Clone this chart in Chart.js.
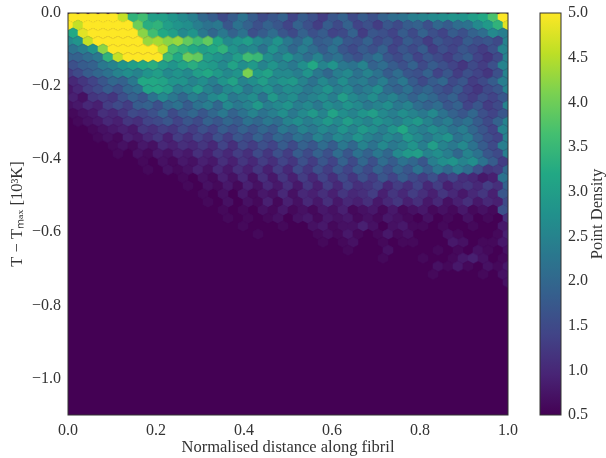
<!DOCTYPE html>
<html>
<head>
<meta charset="utf-8">
<script src="https://cdn.jsdelivr.net/npm/chart.js@4"></script>
<style>
  html, body { margin: 0; padding: 0; background: #fff; }
  canvas { position: absolute; left: 0; top: 0; }
</style>
</head>
<body>
<canvas id="hexChart" width="606" height="458"></canvas>
<canvas id="barChart" width="606" height="458"></canvas>
<script>
// Eje y etiquetas
const xTicks = [0, 0.2, 0.4, 0.6, 0.8, 1];
const yTicks = [0, -0.2, -0.4, -0.6, -0.8, -1];
const cbTicks = [0.5, 1, 1.5, 2, 2.5, 3, 3.5, 4, 4.5, 5];
const xTitle = 'Normalised distance along fibril';
const yTitle = 'T − Tₘₐₓ [10³K]';
const cbTitle = 'Point Density';

const viridis = ['#440154', '#482475', '#414487', '#355f8d', '#2a788e', '#21918c', '#22a884', '#44bf70', '#7ad151', '#bddf26', '#fde725'];

// Densidad, fila por fila desde arriba (filas impares corridas media celda)
const density = [
  [5,5,5,5,5,4.6,3.4,3.6,3,3,2.8,2.6,2.4,2,1.8,1.5,1.8,2.2,1.8,1.5,1.7,1.9,1.4,1.8,1.6,1.3,1.7,1.9,1.5,1.8,1.6,1.9,2.1,2.2,2.4,2.5,2.6,2.7,2.8,2.8,3,3.2,3.7,5],
  [5,4.6,5,5,5,5,5,4,3.3,3.4,3,2.8,2.7,2.4,2.2,2.3,1.7,2.2,1.9,1.6,1.9,1.7,1.4,1.9,1.6,1.3,1.8,1.5,1.9,1.4,1.6,1.3,1.7,1.5,1.8,1.9,1.6,2,1.8,2.1,2.2,2.6,2.9,3.4,4.8],
  [3.2,4.8,5,5,5,5,5,4.2,3.6,3.2,3,2.6,2.8,2.3,2,2.3,1.9,2.2,1.6,1.8,2.1,1.7,1.5,1.9,1.6,1.8,1.4,1.5,1.9,1.3,1.7,1.6,1.4,1.8,1.5,1.9,1.6,1.4,1.8,1.6,1.9,2.1,2.6,2.4],
  [2.6,2.8,4.6,5,5,5,5,5,4.3,4.4,4.2,4.3,3.9,3.6,3.9,3.2,2.6,2.8,3,2.6,2.4,2.8,2.3,2,2.4,1.8,1.9,2.2,1.7,1.6,1.9,1.5,1.7,1.4,1.8,1.6,1.3,1.7,1.5,1.4,1.8,1.6,1.7,1.5,2.5],
  [2.2,2.4,2.8,4.2,5,5,5,5,5,4.6,3.6,3.4,3.2,3,3.2,3.4,2.8,2.5,2.6,2.2,2.8,2.4,2,2.4,2.1,1.8,2.2,1.7,1.5,1.8,1.6,1.9,1.4,1.7,1.5,1.8,1.3,1.6,1.4,1.7,1.5,1.3,1.6,2.5],
  [1.9,1.9,2.1,2.3,3.4,4.6,5,5,5,5,3.6,3.2,4,3.9,3,2.8,2.6,3,3.6,3.5,2.7,2.4,2.8,2.4,2.1,2.5,2,2.2,1.8,1.6,1.9,2.2,1.7,1.5,1.8,1.4,1.7,1.5,1.3,1.6,1.8,1.4,1.2,1.5,2.5],
  [1.6,1.8,1.9,2.3,2.5,2.8,3,3.2,3.3,3,2.8,3.1,3.3,3,2.9,2.6,3.1,2.7,2.9,2.5,2.8,2.5,2.3,2.7,3.2,2.5,2.8,2.3,2.2,2.5,1.9,2.1,1.8,1.6,1.9,1.5,1.8,1.6,1.4,1.2,1.5,1.3,1.6,2.5],
  [1.3,1.5,1.8,2,2.2,2.5,2.7,2.5,2.8,3,2.6,2.8,2.6,3,3.2,2.9,2.6,2.8,4.1,2.9,3.1,2.6,2.6,2.4,2.8,2.3,2,2.4,2.6,2.2,2.5,2.2,1.8,2.1,1.7,1.6,1.9,1.4,1.7,1.3,1.6,1.4,1.2,1.6,2.5],
  [1,1.2,1.4,1.7,2,1.9,2.3,3.2,3.2,3.1,2.8,2.8,2.5,2.7,2.4,2.8,3.1,2.5,2.7,3,2.6,2.8,2.9,2.5,2.2,2.6,2.3,2.7,2.3,2.4,2.1,2.4,2,2.3,1.8,1.5,1.8,2,1.5,1.7,1.3,1.5,1.8,2.4],
  [0.8,1,1.3,1.5,1.8,1.6,2,2.2,3.1,3.2,3,2.4,2.6,3,2.5,2.2,2.6,2.8,2.3,2.6,2.8,2.4,2.7,2.6,2.3,2.5,2.8,2.4,2.6,2.2,2.4,2.7,2.1,1.9,2.2,1.8,2,1.7,1.5,1.8,1.4,1.2,1.5,1.7,2.5],
  [0.9,0.7,1.2,1.3,1.2,1.6,1.9,1.7,2.2,2.6,2.3,2,2.4,2.2,2.6,2.8,2.3,2.5,2.7,2.2,2.9,2.5,2.7,2.3,2.5,2.7,2.4,3,2.6,2.4,2.7,2.3,2.5,2.2,1.9,2.2,2,1.7,1.9,1.5,1.3,1.6,1.4,1.7],
  [0.7,0.8,1,0.9,1.3,1.5,1.3,1.8,1.9,1.6,2,2.2,1.8,2.2,2.4,2,2.6,2.3,2.5,2.9,2.4,2.6,2.8,2.4,2.6,2.3,2.7,2.5,2.8,2.6,2.3,2.5,2.7,2.3,2.5,2.1,1.9,2.1,1.7,1.9,1.4,1.7,1.3,1.5,2.5],
  [0.6,0.7,0.8,1.1,1,1.2,1.5,1.4,1.6,1.9,1.5,1.8,2,1.7,2,2.3,1.9,2.2,2.5,2.2,2.4,2.7,2.3,2.6,2.9,2.5,3.1,2.7,2.5,2.8,3,2.6,2.4,2.7,2.5,2.3,2.6,2.2,1.9,1.7,2,1.6,1.4,1.7],
  [0.5,0.6,0.7,0.8,1,0.9,1.2,1.1,1.4,1.5,1.7,1.4,1.7,1.5,1.9,1.7,2,1.8,2.2,2,2.3,2.1,2.5,2.7,2.4,2.6,2.9,2.6,3,2.7,2.5,2.8,2.6,2.4,2.7,2.9,2.5,2.2,2.4,2,2.2,1.8,1.5,1.9,2.5],
  [0.5,0.5,0.6,0.7,0.8,0.9,0.8,1.2,1.1,1.3,1.2,1.5,1.3,1.6,1.4,1.8,1.6,1.9,1.7,2,1.8,2.3,2.1,2.5,2.3,2.6,2.4,2.8,2.5,2.9,2.7,2.4,2.8,3.2,2.6,2.4,2.7,2.5,2.2,2.4,2,1.7,1.4,2.5],
  [0.5,0.5,0.5,0.6,0.7,0.6,0.9,0.8,1,1.2,0.9,1.3,1.1,1.4,1.2,1.6,1.3,1.7,1.5,1.9,1.6,2,1.8,2.2,2,2.5,2.2,2.6,2.4,2.8,2.5,2.3,2.6,2.4,2.9,2.6,2.3,2.6,2.8,2.2,2.4,1.9,1.6,1.4,2.5],
  [0.5,0.5,0.5,0.5,0.6,0.7,0.6,0.8,0.7,1,0.9,1.1,1,1.2,1,1.4,1.1,1.5,1.3,1.6,1.4,1.8,1.5,1.9,1.7,2.1,1.8,2.3,2,2.5,2.2,2.6,2.3,2.5,2.8,2.4,3,2.5,2.3,2.6,2.2,1.8,1.5,2.4],
  [0.5,0.5,0.5,0.5,0.5,0.6,0.5,0.7,0.6,0.8,0.7,0.9,0.8,1.1,0.9,1.2,1,1.3,1.1,1.5,1.2,1.6,1.3,1.8,1.5,1.9,1.6,2.1,1.7,2.2,1.9,2.3,2,2.6,2.9,3,2.5,2.7,2.4,2,2.5,2.2,1.7,1.5,2.4],
  [0.5,0.5,0.5,0.5,0.5,0.5,0.5,0.6,0.5,0.7,0.6,0.8,0.7,0.9,0.8,1.1,0.9,1.2,1,1.3,1.1,1.4,1.2,1.6,1.3,1.7,1.4,1.9,1.5,2,1.6,2.1,1.8,2.2,2,1.7,2.4,2.7,2.8,2.5,2.7,2.2,1.8,1.3],
  [0.5,0.5,0.5,0.5,0.5,0.5,0.5,0.5,0.6,0.5,0.7,0.6,0.7,0.9,0.7,1,0.8,1.1,0.9,1.2,0.9,1.3,1,1.5,1.2,1.6,1.3,1.7,1.4,1.8,1.5,1.9,1.6,2,1.7,2.2,1.8,2.3,2,2.4,2.1,1.6,1.2,1.3,2],
  [0.5,0.5,0.5,0.5,0.5,0.5,0.5,0.5,0.5,0.5,0.5,0.6,0.5,0.7,0.6,0.9,0.7,1,0.7,1.1,0.8,1.2,0.9,1.3,1,1.4,1.1,1.5,1.2,1.6,1.3,1.7,1.4,1.8,1.5,1.3,1.6,1.2,1.4,1.1,1,0.8,0.9,2.2],
  [0.5,0.5,0.5,0.5,0.5,0.5,0.5,0.5,0.5,0.5,0.5,0.5,0.6,0.5,0.7,0.6,0.8,0.6,0.9,0.7,1,0.8,1.1,0.8,1.2,0.9,1.3,1,1.4,1.1,1.2,1.4,1,1.3,1.1,1.4,1,1.3,0.9,1.1,1.2,1,1.3,1.1,1.9],
  [0.5,0.5,0.5,0.5,0.5,0.5,0.5,0.5,0.5,0.5,0.5,0.5,0.5,0.6,0.5,0.7,0.5,0.8,0.6,0.8,0.7,1,0.7,1,0.9,1.1,0.9,1.2,1,1.1,1.3,0.9,1.2,1,1.3,1.1,0.9,1.2,1,0.8,1,1.2,0.9,1.7],
  [0.5,0.5,0.5,0.5,0.5,0.5,0.5,0.5,0.5,0.5,0.5,0.5,0.5,0.5,0.6,0.5,0.7,0.5,0.7,0.6,0.9,0.6,0.9,0.7,1,0.8,1.1,0.8,1,0.9,1.1,0.8,1,1.2,0.9,1.1,0.8,1,0.7,0.9,1.1,0.8,1,0.9,1.5],
  [0.5,0.5,0.5,0.5,0.5,0.5,0.5,0.5,0.5,0.5,0.5,0.5,0.5,0.5,0.5,0.6,0.5,0.6,0.5,0.7,0.6,0.8,0.6,0.7,0.6,0.8,0.7,0.9,0.6,0.7,0.8,0.6,0.8,0.6,0.7,0.8,0.6,0.7,0.6,0.8,0.6,0.7,0.6,1.6],
  [0.5,0.5,0.5,0.5,0.5,0.5,0.5,0.5,0.5,0.5,0.5,0.5,0.5,0.5,0.5,0.5,0.6,0.5,0.6,0.5,0.6,0.7,0.5,0.7,0.8,0.6,0.8,0.7,0.8,0.6,0.7,0.6,0.8,0.7,0.6,0.5,0.7,0.5,0.6,0.5,0.7,0.5,0.6,0.5,1.1],
  [0.5,0.5,0.5,0.5,0.5,0.5,0.5,0.5,0.5,0.5,0.5,0.5,0.5,0.5,0.5,0.5,0.5,0.6,0.5,0.5,0.5,0.6,0.5,0.5,0.7,0.8,0.6,0.7,0.7,0.9,0.7,0.5,0.7,0.8,0.6,0.6,0.5,0.6,0.5,0.5,0.6,0.5,0.5,0.8],
  [0.5,0.5,0.5,0.5,0.5,0.5,0.5,0.5,0.5,0.5,0.5,0.5,0.5,0.5,0.5,0.5,0.5,0.5,0.5,0.6,0.5,0.5,0.5,0.5,0.5,0.6,0.7,0.6,0.8,0.6,0.5,0.6,0.8,0.6,0.7,0.5,0.5,0.5,0.7,0.6,0.5,0.5,0.5,0.6,0.9],
  [0.5,0.5,0.5,0.5,0.5,0.5,0.5,0.5,0.5,0.5,0.5,0.5,0.5,0.5,0.5,0.5,0.5,0.5,0.5,0.5,0.5,0.5,0.5,0.5,0.5,0.6,0.5,0.6,0.7,0.5,0.5,0.6,0.5,0.6,0.6,0.5,0.5,0.5,0.8,0.7,0.5,0.6,0.6,0.8],
  [0.5,0.5,0.5,0.5,0.5,0.5,0.5,0.5,0.5,0.5,0.5,0.5,0.5,0.5,0.5,0.5,0.5,0.5,0.5,0.5,0.5,0.5,0.5,0.5,0.5,0.5,0.5,0.5,0.6,0.5,0.5,0.5,0.7,0.5,0.5,0.5,0.5,0.6,0.5,0.6,0.5,0.7,0.6,0.5,0.7],
  [0.5,0.5,0.5,0.5,0.5,0.5,0.5,0.5,0.5,0.5,0.5,0.5,0.5,0.5,0.5,0.5,0.5,0.5,0.5,0.5,0.5,0.5,0.5,0.5,0.5,0.5,0.5,0.5,0.5,0.5,0.5,0.6,0.5,0.5,0.5,0.6,0.5,0.5,0.6,0.8,0.9,0.7,0.5,0.6],
  [0.5,0.5,0.5,0.5,0.5,0.5,0.5,0.5,0.5,0.5,0.5,0.5,0.5,0.5,0.5,0.5,0.5,0.5,0.5,0.5,0.5,0.5,0.5,0.5,0.5,0.5,0.5,0.5,0.5,0.5,0.5,0.5,0.5,0.5,0.5,0.5,0.5,0.7,0.6,0.8,0.6,0.5,0.7,0.6,0.8],
  [0.5,0.5,0.5,0.5,0.5,0.5,0.5,0.5,0.5,0.5,0.5,0.5,0.5,0.5,0.5,0.5,0.5,0.5,0.5,0.5,0.5,0.5,0.5,0.5,0.5,0.5,0.5,0.5,0.5,0.5,0.5,0.5,0.5,0.5,0.5,0.5,0.6,0.5,0.5,0.5,0.5,0.6,0.5,0.7],
  [0.5,0.5,0.5,0.5,0.5,0.5,0.5,0.5,0.5,0.5,0.5,0.5,0.5,0.5,0.5,0.5,0.5,0.5,0.5,0.5,0.5,0.5,0.5,0.5,0.5,0.5,0.5,0.5,0.5,0.5,0.5,0.5,0.5,0.5,0.5,0.5,0.5,0.5,0.5,0.5,0.5,0.5,0.5,0.5,0.7]
];

// Color viridis para un valor (colormap, no datos)
function colorFor(v) {
  const t = Math.min(1, Math.max(0, (v - 0.5) / 4.5)) * (viridis.length - 1);
  const i = Math.min(viridis.length - 2, Math.floor(t));
  const parse = h => [1, 3, 5].map(k => parseInt(h.substr(k, 2), 16));
  const a = parse(viridis[i]), b = parse(viridis[i + 1]);
  const c = a.map((n, k) => Math.round(n + (b[k] - n) * (t - i)));
  return 'rgb(' + c.join(',') + ')';
}

// Hexágono como pointStyle, uno por color
const hexCache = {};
function hexFor(v) {
  if (hexCache[v]) return hexCache[v];
  const c = document.createElement('canvas');
  c.width = 12; c.height = 12;
  const g = c.getContext('2d');
  g.fillStyle = colorFor(v);
  g.beginPath();
  [[6, 0.4], [11.3, 3.2], [11.3, 8.8], [6, 11.6], [0.7, 8.8], [0.7, 3.2]].forEach(p => g.lineTo(p[0], p[1]));
  g.closePath();
  g.fill();
  hexCache[v] = c;
  return c;
}

const nCols = 44, nRows = 50;
const cells = [];
density.forEach((row, i) => {
  row.forEach((v, j) => {
    if (v <= 0.5) return;
    cells.push({ x: (j + (i % 2 ? 0 : 0.5)) / nCols, y: -(i + 0.5) * 1.1 / nRows, v: v });
  });
});

const tickFont = { family: '"Liberation Serif", serif', size: 16 };
const titleFont = { family: '"Liberation Serif", serif', size: 16.5 };
const ink = '#333333';

// Fondo del área y marco
const framePlugin = {
  id: 'frame',
  beforeDatasetsDraw(chart) {
    const a = chart.chartArea;
    chart.ctx.fillStyle = viridis[0];
    chart.ctx.fillRect(a.left, a.top, a.width, a.height);
  },
  afterDatasetsDraw(chart) {
    const a = chart.chartArea;
    chart.ctx.strokeStyle = ink;
    chart.ctx.lineWidth = 1;
    chart.ctx.strokeRect(a.left, a.top, a.width, a.height);
  }
};

new Chart(document.getElementById('hexChart'), {
  type: 'scatter',
  data: {
    datasets: [{
      data: cells,
      pointStyle: c => (c.raw ? hexFor(c.raw.v) : 'circle'),
      pointRadius: 6,
      borderWidth: 0,
      clip: 0
    }]
  },
  plugins: [framePlugin],
  options: {
    responsive: false,
    animation: false,
    events: [],
    layout: { padding: { top: 13, right: 98, left: 0, bottom: 0 } },
    plugins: { legend: { display: false }, tooltip: { enabled: false } },
    scales: {
      x: {
        type: 'linear', min: 0, max: 1,
        afterBuildTicks: s => { s.ticks = xTicks.map(v => ({ value: v })); },
        afterFit: s => { s.height = 43; },
        grid: { display: false, drawTicks: true, tickLength: 4, tickColor: ink },
        border: { display: false },
        ticks: { color: ink, font: tickFont, padding: 2, maxRotation: 0, autoSkip: false, callback: v => v.toFixed(1) },
        title: { display: true, text: xTitle, color: ink, font: titleFont, padding: { top: 0, bottom: 0 } }
      },
      y: {
        type: 'linear', min: -1.1, max: 0,
        afterBuildTicks: s => { s.ticks = yTicks.map(v => ({ value: v })); },
        afterFit: s => { s.width = 68; },
        grid: { display: false, tickLength: 4, tickColor: ink },
        border: { display: false },
        ticks: { color: ink, font: tickFont, padding: 3, autoSkip: false, callback: v => v.toFixed(1).replace('-', '−') },
        title: { display: true, text: yTitle, color: ink, font: titleFont, padding: { top: 8, bottom: 0 } }
      }
    }
  }
});

// Barra de color: una sola barra flotante con gradiente
new Chart(document.getElementById('barChart'), {
  type: 'bar',
  data: {
    labels: [cbTitle],
    datasets: [{
      data: [[cbTicks[0], cbTicks[cbTicks.length - 1]]],
      categoryPercentage: 1,
      barPercentage: 1,
      backgroundColor: c => {
        const a = c.chart.chartArea;
        if (!a) return viridis[0];
        const g = c.chart.ctx.createLinearGradient(0, a.bottom, 0, a.top);
        viridis.forEach((col, i) => g.addColorStop(i / (viridis.length - 1), col));
        return g;
      }
    }]
  },
  plugins: [{
    id: 'cbFrame',
    afterDatasetsDraw(chart) {
      const a = chart.chartArea, ctx = chart.ctx;
      ctx.strokeStyle = ink;
      ctx.lineWidth = 1;
      ctx.strokeRect(a.left, a.top, a.width, a.height);
      // Título girado de abajo hacia arriba, como en la figura
      ctx.save();
      ctx.translate(598, (a.top + a.bottom) / 2);
      ctx.rotate(-Math.PI / 2);
      ctx.fillStyle = ink;
      ctx.font = '16.5px "Liberation Serif", serif';
      ctx.textAlign = 'center';
      ctx.textBaseline = 'middle';
      ctx.fillText(cbTitle, 0, 0);
      ctx.restore();
    }
  }],
  options: {
    responsive: false,
    animation: false,
    events: [],
    layout: { padding: { top: 13, left: 540, right: 0, bottom: 43 } },
    plugins: { legend: { display: false }, tooltip: { enabled: false } },
    scales: {
      x: { display: false },
      y: {
        position: 'right',
        min: 0.5, max: 5,
        afterBuildTicks: s => { s.ticks = cbTicks.map(v => ({ value: v })); },
        afterFit: s => { s.width = 45; },
        grid: { display: false, tickLength: 4, tickColor: ink },
        border: { display: false },
        ticks: { color: ink, font: tickFont, padding: 3, autoSkip: false, callback: v => v.toFixed(1) }
      }
    }
  }
});
</script>
</body>
</html>
